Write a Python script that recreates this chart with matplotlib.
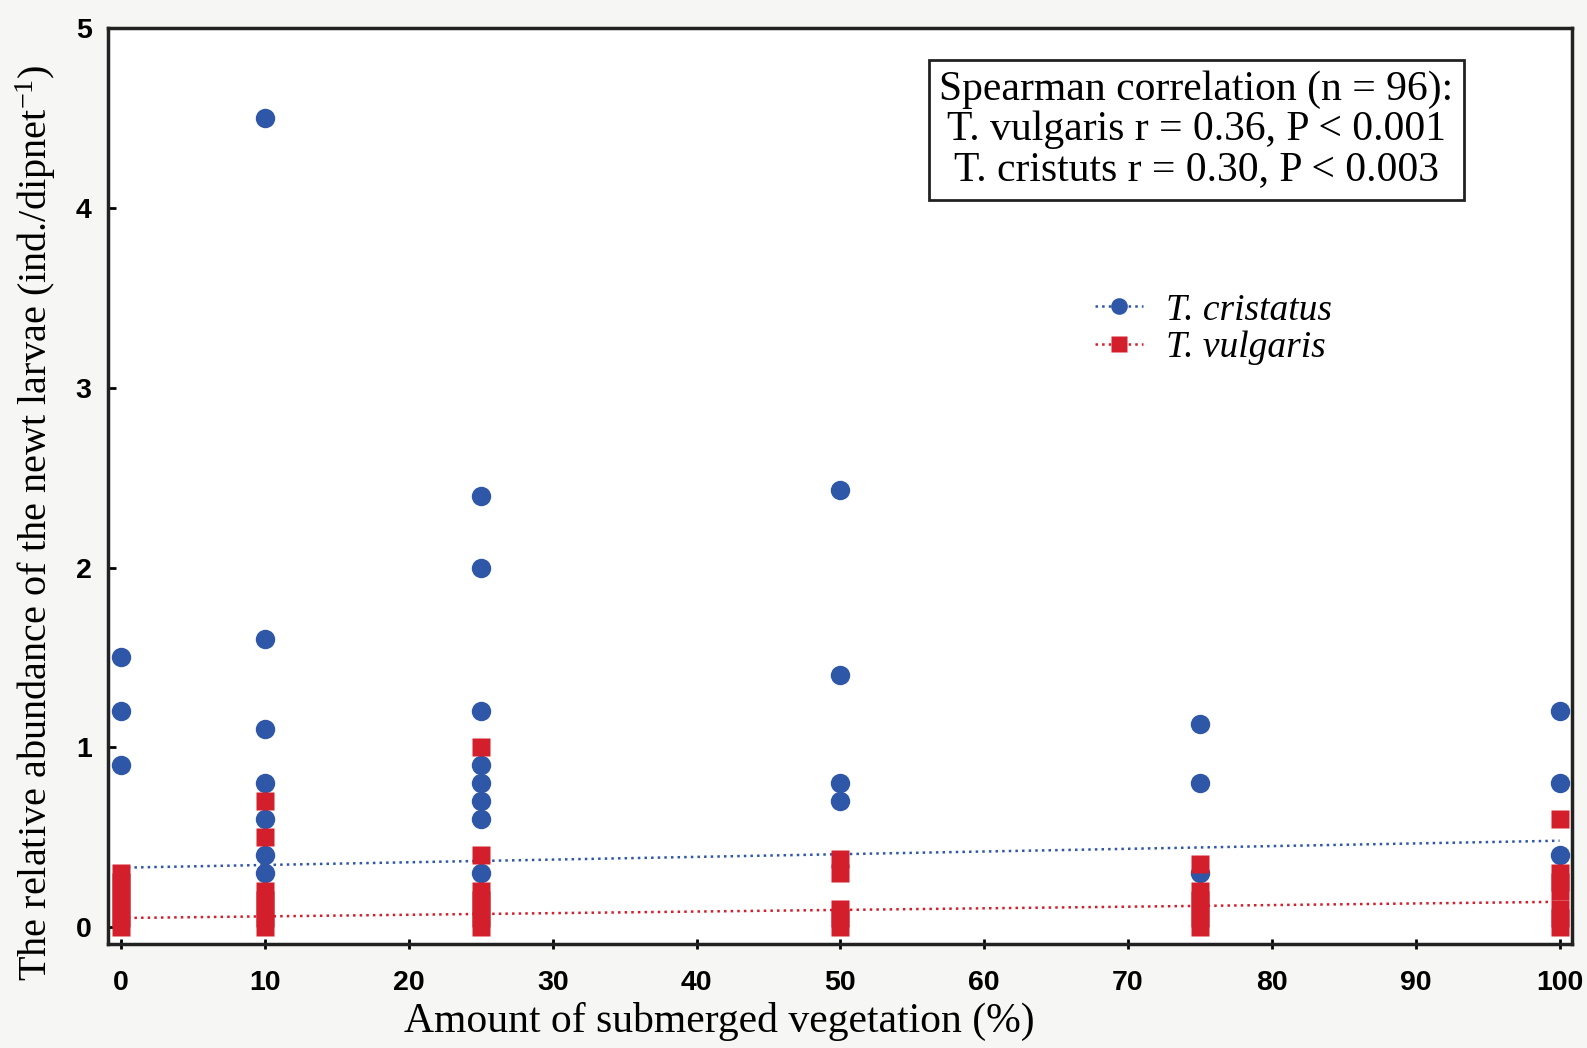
import numpy as np
import matplotlib
matplotlib.use('Agg')
import matplotlib.pyplot as plt
from matplotlib.lines import Line2D

plt.rcParams['mathtext.fontset'] = 'custom'
plt.rcParams['mathtext.rm'] = 'Liberation Serif'
plt.rcParams['mathtext.it'] = 'Liberation Serif:italic'

# T. cristatus (blue circles)
cri_x = [0, 0, 0,
         10, 10, 10, 10, 10, 10, 10,
         25, 25, 25, 25, 25, 25, 25, 25,
         50, 50, 50, 50,
         75, 75, 75,
         100, 100, 100]
cri_y = [1.5, 1.2, 0.9,
         4.5, 1.6, 1.1, 0.8, 0.6, 0.4, 0.3,
         2.4, 2.0, 1.2, 0.9, 0.8, 0.7, 0.6, 0.3,
         2.43, 1.4, 0.8, 0.7,
         1.13, 0.8, 0.3,
         1.2, 0.8, 0.4]

# T. vulgaris (red squares)
vul_x = [0, 0, 0, 0, 0, 0, 0,
         10, 10, 10, 10, 10, 10, 10,
         25, 25, 25, 25, 25, 25, 25,
         50, 50, 50, 50, 50,
         75, 75, 75, 75, 75, 75,
         100, 100, 100, 100, 100, 100, 100]
vul_y = [0.3, 0.25, 0.2, 0.15, 0.1, 0.05, 0.0,
         0.7, 0.5, 0.2, 0.15, 0.1, 0.05, 0.0,
         1.0, 0.4, 0.2, 0.15, 0.1, 0.05, 0.0,
         0.38, 0.3, 0.1, 0.05, 0.0,
         0.35, 0.2, 0.15, 0.1, 0.05, 0.0,
         0.6, 0.3, 0.25, 0.2, 0.1, 0.05, 0.0]

# fitted trend lines (end points)
trend_x = [0, 100]
cri_trend = [0.33, 0.48]
vul_trend = [0.05, 0.14]

blue = '#2f57a8'
red = '#d21f2b'
serif = 'Liberation Serif'

fig = plt.figure(figsize=(15.87, 10.48), dpi=100, facecolor='#f6f6f4')
ax = fig.add_axes([0.0682, 0.099, 0.9222, 0.874])
ax.set_facecolor('white')

ax.plot(trend_x, cri_trend, ':', color=blue, lw=1.8, zorder=2)
ax.plot(trend_x, vul_trend, ':', color=red, lw=1.8, zorder=2)
ax.plot(cri_x, cri_y, 'o', color=blue, ms=14, mec='none', zorder=3)
ax.plot(vul_x, vul_y, 's', color=red, ms=13, mec='none', zorder=4)

ax.set_xlim(-0.9, 100.85)
ax.set_ylim(-0.096, 5.0)
ax.set_xticks(np.arange(0, 101, 10))
ax.set_yticks(np.arange(0, 6, 1))
for lab in ax.get_xticklabels() + ax.get_yticklabels():
    lab.set_fontfamily('Liberation Sans')
    lab.set_fontweight('bold')
    lab.set_fontsize(20.5)
ax.tick_params(axis='x', direction='inout', length=7, width=2, pad=15)
ax.tick_params(axis='y', direction='in', length=6, width=2, pad=12)
for sp in ax.spines.values():
    sp.set_linewidth(2.5)
    sp.set_color('#222222')

ax.set_xlabel('Amount of submerged vegetation (%)', family=serif,
              fontsize=30)
ax.xaxis.set_label_coords(0.4176, -0.063)
ax.set_ylabel(r'The relative abundance of the newt larvae (ind./dipnet$^{-1}$)',
              family=serif, fontsize=29)
ax.yaxis.set_label_coords(-0.034, 0.46)

ax.text(0.7435, 0.889,
        'Spearman correlation (n = 96):\nT. vulgaris r = 0.36, P < 0.001\n'
        'T. cristuts r = 0.30, P < 0.003',
        transform=ax.transAxes, ha='center', va='center',
        multialignment='center', family=serif, fontsize=30, linespacing=1.05,
        bbox=dict(boxstyle='square,pad=0.25', facecolor='white',
                  edgecolor='#222222', linewidth=2))

handles = [Line2D([], [], ls=':', color=blue, lw=1.8, marker='o', ms=12, mec='none'),
           Line2D([], [], ls=':', color=red, lw=1.8, marker='s', ms=11, mec='none')]
ax.legend(handles, ['T. cristatus', 'T. vulgaris'], loc='upper left',
          bbox_to_anchor=(0.674, 0.711), frameon=False, handlelength=1.3,
          handletextpad=0.6, labelspacing=0.08, borderpad=0, borderaxespad=0,
          prop={'family': serif, 'style': 'italic', 'size': 27})

fig.savefig('out.png', dpi=100, facecolor=fig.get_facecolor())
